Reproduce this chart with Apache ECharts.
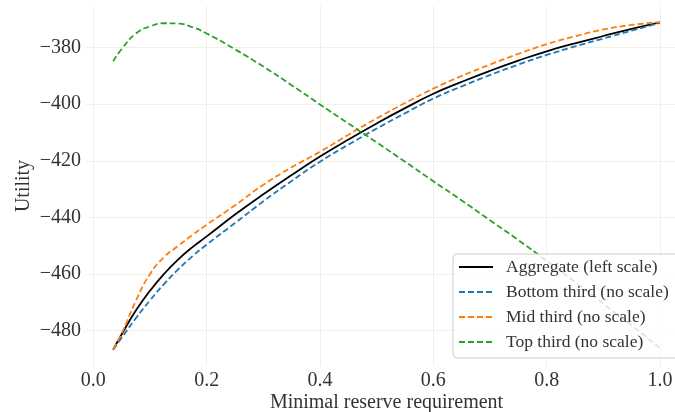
<!DOCTYPE html>
<html>
<head>
<meta charset="utf-8">
<script src="https://cdn.jsdelivr.net/npm/echarts@6/dist/echarts.min.js"></script>
<style>
  html, body { margin: 0; padding: 0; background: #fff; }
  #chart { width: 675px; height: 412px; }
</style>
</head>
<body>
<div id="chart"></div>
<script>
const reserve = [0.035, 0.05, 0.075, 0.1, 0.125, 0.15, 0.175, 0.2, 0.25, 0.3, 0.35, 0.4,
  0.45, 0.5, 0.55, 0.6, 0.65, 0.7, 0.75, 0.8, 0.85, 0.9, 0.95, 1.0]

const aggregate = [-486.7, -481.3, -472.9, -465.9, -459.9, -454.8, -450.5, -446.7, -439.0, -431.8,
  -425.0, -418.5, -412.5, -406.8, -401.4, -396.3, -392.1, -388.2, -384.6, -381.3,
  -378.5, -375.9, -373.4, -371.1]
const bottomThird = [-486.7, -482.5, -475.6, -469.3, -463.5, -458.3, -453.7, -449.6, -442.0, -434.3,
  -427.1, -420.3, -414.3, -408.6, -403.2, -398.0, -393.7, -389.7, -386.0, -382.6,
  -379.6, -376.8, -374.0, -371.3]
const midThird = [-486.5, -481.0, -469.5, -460.0, -454.0, -450.0, -446.2, -442.6, -435.7, -428.5,
  -422.3, -416.8, -410.8, -405.0, -399.6, -394.5, -390.0, -386.0, -382.2, -378.8,
  -376.0, -373.6, -372.0, -371.0]
const topThird = [-384.8, -380.5, -375.0, -372.5, -371.4, -371.5, -372.8, -375.0, -380.6, -386.7,
  -393.3, -400.1, -406.8, -413.5, -420.3, -427.2, -434.0, -441.0, -448.0, -455.3,
  -462.8, -470.5, -478.2, -486.1]

const xTicks = [0.0, 0.2, 0.4, 0.6, 0.8, 1.0]
const yTicks = [-480, -460, -440, -420, -400, -380]

const font = 'Liberation Serif'
const textColor = '#333333'
const gridColor = '#f2f0e4'

const pair = (ys) => reserve.map((x, i) => [x, ys[i]])

const line = (name, ys, color, dashed) => ({
  type: 'line',
  name,
  data: pair(ys),
  smooth: true,
  showSymbol: false,
  symbol: 'none',
  lineStyle: { color, width: 1.8, type: dashed ? [6, 3] : 'solid' },
  itemStyle: { color },
})

const chart = echarts.init(document.getElementById('chart'))
chart.setOption({
  backgroundColor: '#fff',
  animation: false,
  grid: { left: 86, right: 0, top: 6, bottom: 46, outerBoundsMode: 'none' },
  xAxis: {
    type: 'value',
    min: -0.013,
    max: 1.0265,
    name: 'Minimal reserve requirement',
    nameLocation: 'middle',
    nameGap: 27,
    nameMoveOverlap: false,
    nameTextStyle: { fontFamily: font, fontSize: 20, color: textColor, padding: [0, 0, 0, 12] },
    axisLine: { show: false },
    axisTick: { show: false, customValues: xTicks },
    axisLabel: {
      customValues: xTicks,
      margin: 5,
      fontFamily: font,
      fontSize: 20,
      color: textColor,
      formatter: (v) => v.toFixed(1),
    },
    splitLine: { show: true, lineStyle: { color: gridColor, width: 1 } },
  },
  yAxis: {
    type: 'value',
    min: -492.5,
    max: -365.3,
    name: 'Utility',
    nameLocation: 'middle',
    nameGap: 52,
    nameMoveOverlap: false,
    nameTextStyle: { fontFamily: font, fontSize: 20, color: textColor },
    axisLine: { show: false },
    axisTick: { show: false, customValues: yTicks },
    axisLabel: {
      customValues: yTicks,
      margin: 5,
      fontFamily: font,
      fontSize: 20,
      color: textColor,
      formatter: (v) => String(v).replace('-', '\u2212'),
    },
    splitLine: { show: true, lineStyle: { color: gridColor, width: 1 } },
  },
  legend: {
    orient: 'vertical',
    left: 453,
    top: 254,
    itemWidth: 34,
    itemHeight: 14,
    itemGap: 7,
    padding: [4, 12, 7, 5],
    backgroundColor: 'rgba(255,255,255,0.8)',
    borderColor: '#cccccc',
    borderWidth: 1,
    borderRadius: 4,
    itemStyle: { opacity: 0 },
    textStyle: { fontFamily: font, fontSize: 17.5, color: textColor, padding: [0, 0, 0, 8] },
    data: ['Aggregate (left scale)', 'Bottom third (no scale)', 'Mid third (no scale)', 'Top third (no scale)'],
  },
  series: [
    line('Aggregate (left scale)', aggregate, '#000000', false),
    line('Bottom third (no scale)', bottomThird, '#1f77b4', true),
    line('Mid third (no scale)', midThird, '#ff7f0e', true),
    line('Top third (no scale)', topThird, '#2ca02c', true),
  ],
})
</script>
</body>
</html>
